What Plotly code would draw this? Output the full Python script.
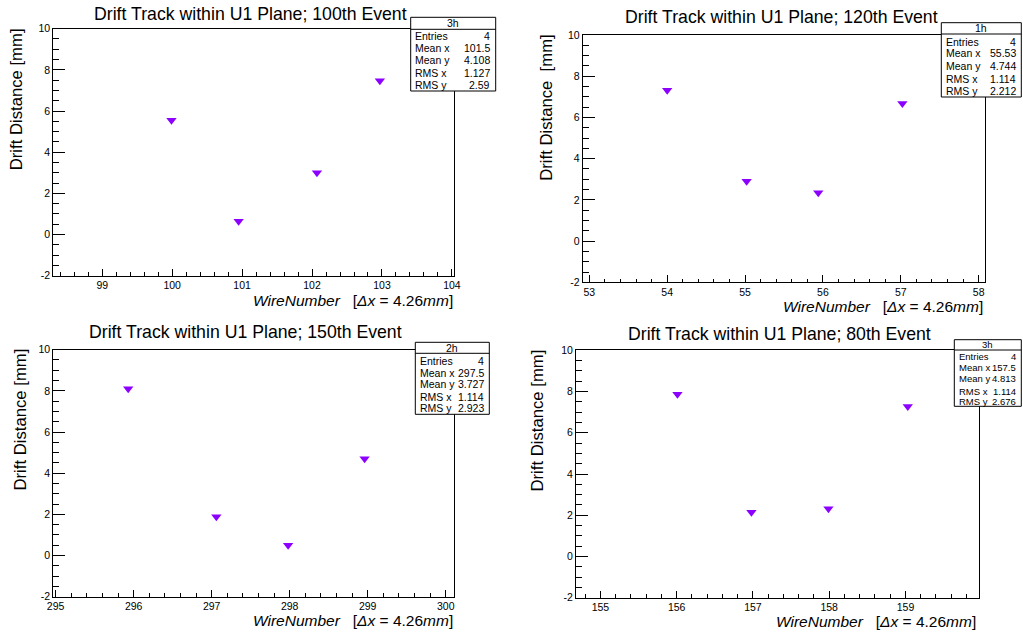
import plotly.graph_objects as go

W, H = 1023, 632
FONT = "Liberation Sans, Arial, Helvetica, sans-serif"
MARKER_COLOR = "#8b00ff"

# ---- data ----
titles = [
    "Drift Track within U1 Plane; 100th Event",
    "Drift Track within U1 Plane; 120th Event",
    "Drift Track within U1 Plane; 150th Event",
    "Drift Track within U1 Plane; 80th Event",
]
wires_100 = [99.99, 100.95, 102.07, 102.97]
drift_100 = [5.55, 0.65, 3.0, 7.47]
wires_120 = [54.0, 55.02, 55.94, 57.02]
drift_120 = [7.32, 2.9, 2.34, 6.68]
wires_150 = [295.93, 297.06, 297.98, 298.96]
drift_150 = [8.1, 1.88, 0.5, 4.7]
wires_80 = [156.01, 156.98, 157.99, 159.03]
drift_80 = [7.87, 2.15, 2.32, 7.28]

y_tick_vals = [-2, 0, 2, 4, 6, 8, 10]
y_tick_text = ["-2", "0", "2", "4", "6", "8", "10"]

stat_names = ["3h", "1h", "2h", "3h"]
stat_labels = ["Entries", "Mean x", "Mean y", "RMS x", "RMS y"]
stats_100 = ["4", "101.5", "4.108", "1.127", "2.59"]
stats_120 = ["4", "55.53", "4.744", "1.114", "2.212"]
stats_150 = ["4", "297.5", "3.727", "1.114", "2.923"]
stats_80 = ["4", "157.5", "4.813", "1.114", "2.676"]

y_titles = ["Drift Distance [mm]", "Drift Distance\u00a0\u00a0[mm]", "Drift Distance [mm]", "Drift Distance [mm]"]
x_title = "<i>WireNumber</i>\u00a0\u00a0\u00a0[<i>\u0394x</i> = 4.26<i>mm</i>]"

# ---- layout geometry (pixels) ----
panels = [
    dict(x=wires_100, y=drift_100, frame=(53.3, 454.0, 28.7, 275.7), xr=(98.3, 104.03),
         title=(250, 13.5), ytitle=(17.3, 99), xtitle=(454, 300),
         box=(410.7, 495.7, 17.3, 91.0, 29.3), rows=[36, 47.7, 60.3, 73.3, 85], fs=10.5,
         stats=stats_100),
    dict(x=wires_120, y=drift_120, frame=(582.7, 984.7, 35.0, 282.3), xr=(52.915, 58.077),
         title=(781, 16.7), ytitle=(546.3, 107.5), xtitle=(984, 306),
         box=(941.3, 1021.3, 22.7, 97.0, 34.0), rows=[42, 53.3, 66, 79.3, 90.7], fs=10.5,
         stats=stats_120),
    dict(x=wires_150, y=drift_150, frame=(53.3, 454.0, 349.7, 596.7), xr=(294.97, 300.106),
         title=(245, 332), ytitle=(20, 419.5), xtitle=(454, 620.3),
         box=(415.3, 489.3, 342.3, 414.3, 353.3), rows=[361, 372.7, 383.7, 396.7, 407.7], fs=10.5,
         stats=stats_150),
    dict(x=wires_80, y=drift_80, frame=(576.0, 978.7, 350.3, 597.7), xr=(154.68, 159.96),
         title=(779, 334.3), ytitle=(537, 420.5), xtitle=(977, 621.7),
         box=(954.3, 1021.3, 339.7, 406.3, 350.0), rows=[356.7, 367.7, 378.7, 391, 401.3], fs=9.5,
         stats=stats_80),
]


def px(x):
    return x / W


def py(y):
    return 1 - y / H


fig = go.Figure()
shapes = []
annotations = []

for i, p in enumerate(panels):
    n = i + 1
    xa = "x" if n == 1 else f"x{n}"
    ya = "y" if n == 1 else f"y{n}"
    l, r, t, b = p["frame"]
    fig.add_trace(go.Scatter(
        x=p["x"], y=p["y"], mode="markers", xaxis=xa, yaxis=ya,
        marker=dict(symbol="triangle-down", size=9, color=MARKER_COLOR, line=dict(width=0)),
        showlegend=False, hoverinfo="x+y",
    ))
    axis_common = dict(showgrid=False, zeroline=False, showline=True, mirror=True,
                       linecolor="#000000", linewidth=1, ticks="inside", tickcolor="#000000",
                       tickfont=dict(family=FONT, size=10.5, color="#000000"))
    fig.update_layout(**{
        ("xaxis" if n == 1 else f"xaxis{n}"): dict(
            domain=[px(l), px(r)], range=list(p["xr"]), anchor=ya, dtick=1, tick0=0,
            ticklen=7, tickwidth=1,
            minor=dict(ticks="inside", ticklen=3.5, dtick=0.2, tick0=0, tickcolor="#000000"),
            **axis_common),
        ("yaxis" if n == 1 else f"yaxis{n}"): dict(
            domain=[py(b), py(t)], range=[-2, 10], anchor=xa,
            tickmode="array", tickvals=y_tick_vals, ticktext=y_tick_text,
            ticklen=12, tickwidth=1,
            minor=dict(ticks="inside", ticklen=6, dtick=0.5, tick0=0, tickcolor="#000000"),
            **axis_common),
    })
    # title
    annotations.append(dict(x=px(p["title"][0]), y=py(p["title"][1]), xref="paper", yref="paper",
                            text=titles[i], showarrow=False, xanchor="center", yanchor="middle",
                            font=dict(family=FONT, size=17.7, color="#000000")))
    # y title
    annotations.append(dict(x=px(p["ytitle"][0]), y=py(p["ytitle"][1]), xref="paper", yref="paper",
                            text=y_titles[i], showarrow=False, textangle=-90,
                            xanchor="center", yanchor="middle",
                            font=dict(family=FONT, size=16.7, color="#000000")))
    # x title
    annotations.append(dict(x=px(p["xtitle"][0]), y=py(p["xtitle"][1]), xref="paper", yref="paper",
                            text=x_title, showarrow=False, xanchor="right", yanchor="middle",
                            font=dict(family=FONT, size=15.5, color="#000000")))
    # stats box
    bl, br, bt, bb, sep = p["box"]
    shapes.append(dict(type="rect", xref="paper", yref="paper", x0=px(bl), x1=px(br),
                       y0=py(bb), y1=py(bt), fillcolor="white",
                       line=dict(color="#000000", width=1), layer="above"))
    shapes.append(dict(type="line", xref="paper", yref="paper", x0=px(bl), x1=px(br),
                       y0=py(sep), y1=py(sep), line=dict(color="#000000", width=1), layer="above"))
    annotations.append(dict(x=px((bl + br) / 2), y=py((bt + sep) / 2), xref="paper", yref="paper",
                            text=stat_names[i], showarrow=False, xanchor="center", yanchor="middle",
                            font=dict(family=FONT, size=p["fs"], color="#000000")))
    for lab, val, ry in zip(stat_labels, p["stats"], p["rows"]):
        annotations.append(dict(x=px(bl + 3.5), y=py(ry), xref="paper", yref="paper",
                                text=lab, showarrow=False, xanchor="left", yanchor="middle",
                                font=dict(family=FONT, size=p["fs"], color="#000000")))
        annotations.append(dict(x=px(br - 4.5), y=py(ry), xref="paper", yref="paper",
                                text=val, showarrow=False, xanchor="right", yanchor="middle",
                                font=dict(family=FONT, size=p["fs"], color="#000000")))

for a in annotations:
    a["borderpad"] = 0
fig.update_layout(width=W, height=H, margin=dict(l=0, r=0, t=0, b=0, autoexpand=False),
                  paper_bgcolor="white", plot_bgcolor="white",
                  shapes=shapes, annotations=annotations, showlegend=False)

fig.write_html("out.html", config={"displayModeBar": False},
               post_script="document.body.style.margin='0';document.body.style.padding='0';"
                           "document.body.style.overflow='hidden';"
                           "document.documentElement.style.overflow='hidden';")
